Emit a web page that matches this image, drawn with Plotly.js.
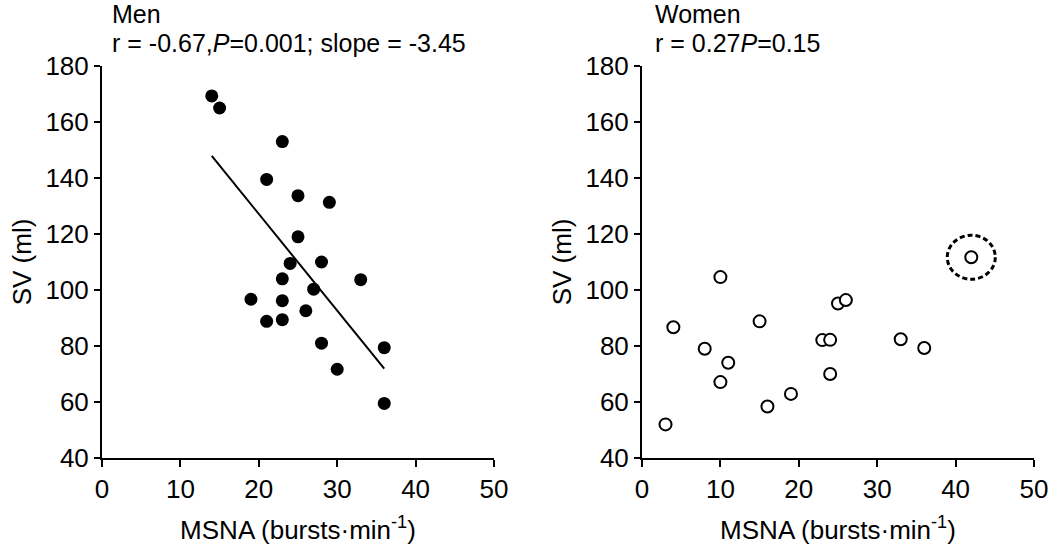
<!DOCTYPE html>
<html>
<head>
<meta charset="utf-8">
<script src="https://cdn.plot.ly/plotly-3.0.1.min.js"></script>
<style>html,body{margin:0;padding:0;background:#fff;}#chart{width:1050px;height:552px;}</style>
</head>
<body>
<div id="chart"></div>
<script>
// Men data (MSNA bursts/min vs SV ml)
const menX = [14, 15, 23, 21, 25, 29, 25, 24, 28, 23, 33, 27, 19, 23, 26, 21, 23, 28, 36, 30, 36];
const menY = [169.3, 165, 153, 139.5, 133.7, 131.3, 119, 109.5, 110, 104, 103.7, 100.3, 96.7, 96.2, 92.6, 88.8, 89.4, 81, 79.4, 71.7, 59.5];
// Men regression line
const fitX = [14, 36];
const fitY = [147.9, 71.9];
// Women data
const womenX = [3, 4, 10, 8, 11, 10, 15, 16, 19, 23, 24, 24, 25, 26, 33, 36, 42];
const womenY = [52, 86.7, 104.6, 79, 74, 67.1, 88.8, 58.4, 62.9, 82.1, 82.2, 70, 95.2, 96.4, 82.4, 79.3, 111.7];
const highlightIndex = 16;
// Axis ticks
const xTicks = [0, 10, 20, 30, 40, 50];
const yTicks = [40, 60, 80, 100, 120, 140, 160, 180];
const panelNames = ["Men", "Women"];
const panelStats = ["r = -0.67,<i>P</i>=0.001; slope = -3.45", "r = 0.27<i>P</i>=0.15"];
const xTitle = "MSNA (bursts·min<sup>-1</sup>)";
const yTitle = "SV (ml)";

const FONT = "'Liberation Sans', Arial, sans-serif";
const FS = 26;
const TFS = 25;

const traces = [
  {x: menX, y: menY, type: 'scatter', mode: 'markers', xaxis: 'x', yaxis: 'y',
   marker: {symbol: 'circle', size: 13, color: 'black'}, hoverinfo: 'skip'},
  {x: fitX, y: fitY, type: 'scatter', mode: 'lines', xaxis: 'x', yaxis: 'y',
   line: {color: 'black', width: 2}, hoverinfo: 'skip'},
  {x: womenX, y: womenY, type: 'scatter', mode: 'markers', xaxis: 'x2', yaxis: 'y2',
   marker: {symbol: 'circle', size: 12, color: 'white', line: {color: 'black', width: 2}}, hoverinfo: 'skip'}
];

function xAxis(domain, anchor) {
  return {
    domain: domain, anchor: anchor, range: [0, 50], tickvals: xTicks,
    showline: true, linewidth: 2, linecolor: 'black', ticks: 'outside', ticklen: 7, tickwidth: 2, tickcolor: 'black',
    showgrid: false, zeroline: false,
    tickfont: {family: FONT, size: FS, color: 'black'},
    title: {text: xTitle, font: {family: FONT, size: FS, color: 'black'}, standoff: 18}
  };
}
function yAxis(anchor) {
  return {
    domain: [0.17029, 0.88043], anchor: anchor, range: [40, 180], tickvals: yTicks,
    showline: true, linewidth: 2, linecolor: 'black', ticks: 'outside', ticklen: 6, tickwidth: 2, tickcolor: 'black',
    showgrid: false, zeroline: false,
    tickfont: {family: FONT, size: FS, color: 'black'},
    title: {text: yTitle, font: {family: FONT, size: FS, color: 'black'}, standoff: 6}
  };
}

function label(text, xref, x, y) {
  return {text: text, xref: xref, yref: 'paper', x: x, y: y, xanchor: 'left', yanchor: 'middle',
          showarrow: false, align: 'left', font: {family: FONT, size: TFS, color: 'black'}};
}

const layout = {
  width: 1050, height: 552,
  margin: {l: 0, r: 0, t: 0, b: 0},
  paper_bgcolor: 'white', plot_bgcolor: 'white',
  showlegend: false,
  xaxis: xAxis([0.09714, 0.47048], 'y'),
  yaxis: yAxis('x'),
  xaxis2: xAxis([0.61143, 0.98476], 'y2'),
  yaxis2: yAxis('x2'),
  annotations: [
    label(panelNames[0], 'x domain', 0.02, 0.9745),
    label(panelStats[0], 'x domain', 0.02, 0.9215),
    label(panelNames[1], 'x2 domain', 0.028, 0.9745),
    label(panelStats[1], 'x2 domain', 0.028, 0.9215)
  ],
  shapes: [
    {type: 'circle', xref: 'x2', yref: 'y2', xsizemode: 'pixel', ysizemode: 'pixel',
     xanchor: womenX[highlightIndex], yanchor: womenY[highlightIndex],
     x0: -24, x1: 24, y0: -22, y1: 22,
     line: {color: 'black', width: 3, dash: '5px,3px'}}
  ]
};

Plotly.newPlot('chart', traces, layout, {displayModeBar: false, staticPlot: true});
</script>
</body>
</html>
